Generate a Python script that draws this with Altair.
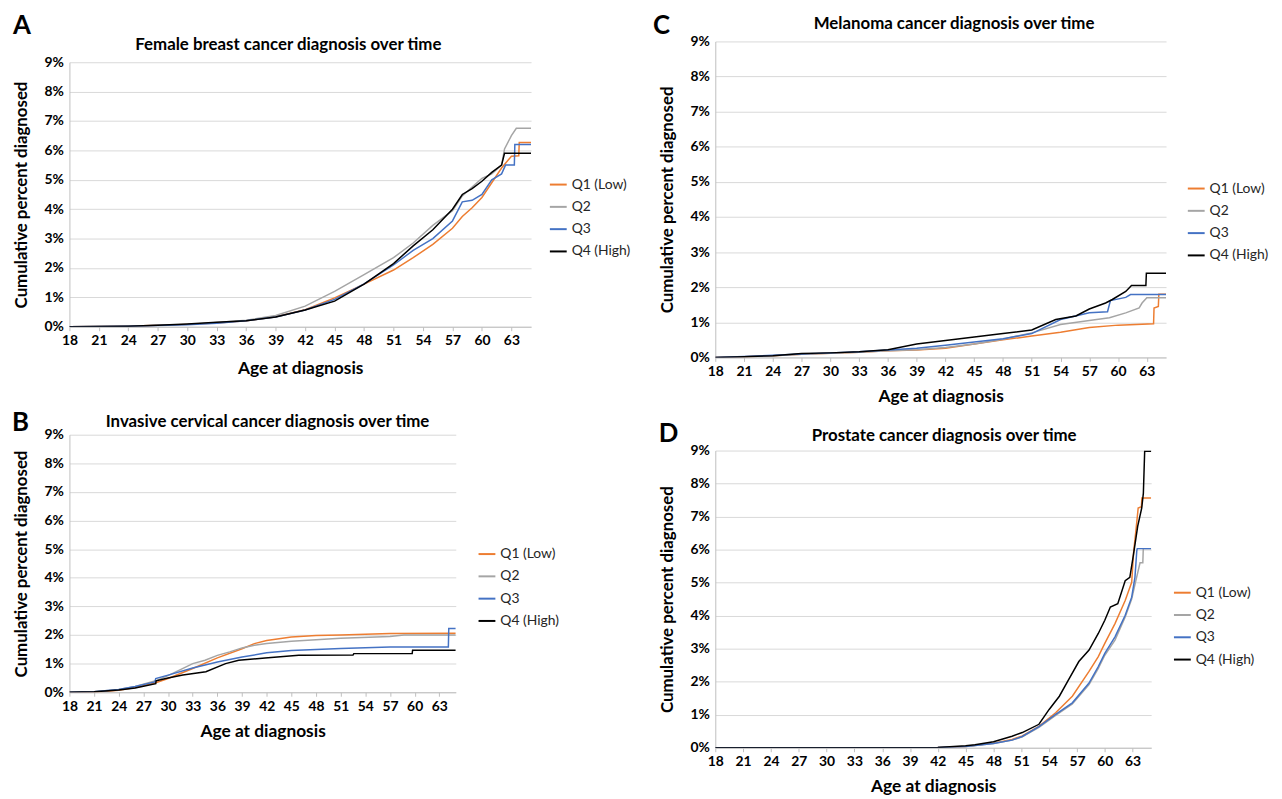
import altair as alt
import pandas as pd

GROUPS = ["Q1 (Low)", "Q2", "Q3", "Q4 (High)"]
COLORS = ["#ed7d31", "#a5a5a5", "#4472c4", "#000000"]
X_TICKS = [18, 21, 24, 27, 30, 33, 36, 39, 42, 45, 48, 51, 54, 57, 60, 63]
Y_TICKS = [0, 1, 2, 3, 4, 5, 6, 7, 8, 9]

# ---------------- Panel A: Female breast cancer ----------------
A_Q1_AGE = [18, 21, 24, 27, 30, 33, 36, 39, 42, 45, 48, 51, 53, 55, 57, 58, 59, 60, 61, 62, 63, 63.75, 63.8, 65]
A_Q1_PCT = [0, 0.01, 0.02, 0.05, 0.08, 0.13, 0.2, 0.34, 0.58, 0.98, 1.45, 1.93, 2.35, 2.8, 3.35, 3.75, 4.05, 4.4, 4.9, 5.4, 5.8, 5.82, 6.27, 6.27]
A_Q2_AGE = [18, 21, 24, 27, 30, 33, 36, 39, 42, 45, 48, 51, 53, 55, 57, 58, 59, 60, 61, 62, 62.3, 63, 63.5, 65]
A_Q2_PCT = [0, 0.01, 0.02, 0.05, 0.08, 0.14, 0.22, 0.38, 0.7, 1.2, 1.77, 2.35, 2.85, 3.45, 3.95, 4.45, 4.75, 5.05, 5.2, 5.5, 6.05, 6.5, 6.75, 6.75]
A_Q3_AGE = [18, 21, 24, 27, 30, 33, 36, 39, 42, 45, 48, 51, 53, 55, 57, 58, 59, 60, 61, 62, 62.4, 63.3, 63.35, 65]
A_Q3_PCT = [0, 0.01, 0.02, 0.04, 0.07, 0.12, 0.2, 0.33, 0.57, 0.93, 1.46, 2.1, 2.6, 3.0, 3.6, 4.25, 4.3, 4.5, 5.0, 5.2, 5.5, 5.5, 6.2, 6.2]
A_Q4_AGE = [18, 21, 24, 27, 30, 33, 36, 39, 42, 45, 48, 51, 53, 55, 57, 58, 59, 60, 61, 62, 62.3, 65]
A_Q4_PCT = [0, 0.01, 0.02, 0.05, 0.09, 0.15, 0.2, 0.33, 0.57, 0.87, 1.45, 2.15, 2.75, 3.3, 4.0, 4.5, 4.7, 4.95, 5.25, 5.5, 5.9, 5.9]

# ---------------- Panel B: Invasive cervical cancer ----------------
B_Q1_AGE = [18, 21, 24, 26, 28.5, 30, 33, 36, 39, 40.5, 42, 45, 48, 51, 57, 65]
B_Q1_PCT = [0, 0.0, 0.07, 0.17, 0.33, 0.48, 0.83, 1.2, 1.52, 1.7, 1.81, 1.93, 1.98, 2.0, 2.05, 2.06]
B_Q2_AGE = [18, 21, 24, 26, 28.5, 30, 33, 34.5, 36, 37.5, 39, 40.5, 42, 45, 51, 57, 58.7, 65]
B_Q2_PCT = [0, 0.02, 0.1, 0.2, 0.4, 0.58, 1.0, 1.12, 1.29, 1.41, 1.55, 1.64, 1.7, 1.78, 1.89, 1.95, 2.0, 2.0]
B_Q3_AGE = [18, 21, 24, 26, 28.4, 28.5, 30, 33, 36, 39, 42, 45, 51, 57, 64.1, 64.15, 65]
B_Q3_PCT = [0, 0.02, 0.1, 0.2, 0.36, 0.48, 0.6, 0.85, 1.06, 1.23, 1.38, 1.46, 1.53, 1.58, 1.58, 2.23, 2.23]
B_Q4_AGE = [18, 21, 24, 26, 28.5, 28.55, 30, 31.8, 34.6, 37, 38.6, 41.8, 45.9, 52.5, 52.6, 59.7, 59.75, 65]
B_Q4_PCT = [0, 0.02, 0.08, 0.15, 0.3, 0.4, 0.5, 0.6, 0.72, 1.0, 1.12, 1.2, 1.29, 1.3, 1.35, 1.35, 1.47, 1.47]

# ---------------- Panel C: Melanoma ----------------
C_Q1_AGE = [18, 21, 24, 27, 30, 33, 36, 39, 42, 45, 48, 51, 54, 57, 60, 63.7, 63.75, 64.2, 64.25, 65]
C_Q1_PCT = [0, 0.02, 0.05, 0.09, 0.12, 0.15, 0.19, 0.21, 0.26, 0.38, 0.5, 0.61, 0.72, 0.85, 0.92, 0.96, 1.41, 1.45, 1.8, 1.8]
C_Q2_AGE = [18, 21, 24, 27, 30, 33, 36, 39, 42, 45, 48, 51, 54, 57, 59.1, 60.8, 62.2, 62.5, 63, 65]
C_Q2_PCT = [0, 0.02, 0.05, 0.09, 0.12, 0.15, 0.19, 0.22, 0.28, 0.38, 0.52, 0.7, 0.94, 1.05, 1.13, 1.27, 1.41, 1.55, 1.7, 1.7]
C_Q3_AGE = [18, 21, 24, 27, 30, 33, 36, 39, 42, 45, 48, 51, 54, 57, 58.9, 59.2, 60.8, 61.3, 65]
C_Q3_PCT = [0, 0.03, 0.06, 0.1, 0.13, 0.16, 0.21, 0.26, 0.35, 0.44, 0.53, 0.68, 1.08, 1.27, 1.3, 1.62, 1.71, 1.79, 1.79]
C_Q4_AGE = [18, 21, 24, 27, 30, 33, 36, 39, 42, 45, 48, 51, 53.5, 55.6, 57, 58.7, 59.4, 60.8, 61.4, 62.9, 62.95, 65]
C_Q4_PCT = [0, 0.02, 0.05, 0.11, 0.13, 0.16, 0.22, 0.38, 0.48, 0.58, 0.68, 0.78, 1.08, 1.18, 1.38, 1.55, 1.65, 1.88, 2.05, 2.05, 2.4, 2.4]

# ---------------- Panel D: Prostate ----------------
D_Q1_AGE = [18, 42, 45, 48, 50, 51.1, 52.9, 54.7, 56.5, 58.3, 59.3, 60, 61.1, 62.2, 62.9, 63.1, 63.4, 63.6, 63.95, 64.0, 65]
D_Q1_PCT = [0, 0.01, 0.04, 0.14, 0.25, 0.36, 0.65, 1.06, 1.56, 2.31, 2.76, 3.16, 3.76, 4.46, 5.01, 5.9, 6.7, 7.26, 7.3, 7.56, 7.56]
D_Q2_AGE = [18, 42, 45, 48, 50, 51.1, 52.9, 54.7, 56.5, 58.3, 59.3, 60, 61.1, 62.2, 62.9, 63.3, 63.8, 64.1, 64.15, 65]
D_Q2_PCT = [0, 0.01, 0.04, 0.13, 0.23, 0.33, 0.62, 0.98, 1.33, 1.91, 2.4, 2.8, 3.26, 3.96, 4.5, 5.0, 5.6, 5.6, 6.03, 6.03]
D_Q3_AGE = [18, 42, 45, 48, 50, 51.1, 52.9, 54.7, 56.5, 58.3, 59.3, 60, 61.1, 62.2, 62.9, 63.25, 63.45, 63.5, 65]
D_Q3_PCT = [0, 0.01, 0.04, 0.13, 0.23, 0.34, 0.64, 1.01, 1.36, 1.96, 2.46, 2.86, 3.36, 4.01, 4.56, 5.16, 5.96, 6.03, 6.03]
D_Q4_AGE = [18, 42, 45, 46, 48, 50, 51.1, 52.9, 54, 55.1, 56.1, 57.2, 58.3, 59.3, 60, 60.6, 61.4, 62.2, 62.7, 63.1, 63.55, 63.98, 64.16, 64.3, 65]
D_Q4_PCT = [0, 0.01, 0.06, 0.09, 0.18, 0.35, 0.46, 0.71, 1.16, 1.56, 2.06, 2.61, 2.96, 3.46, 3.86, 4.26, 4.36, 5.06, 5.16, 5.86, 6.71, 7.26, 7.71, 8.98, 8.98]

SERIES = {
    "A": [(A_Q1_AGE, A_Q1_PCT), (A_Q2_AGE, A_Q2_PCT), (A_Q3_AGE, A_Q3_PCT), (A_Q4_AGE, A_Q4_PCT)],
    "B": [(B_Q1_AGE, B_Q1_PCT), (B_Q2_AGE, B_Q2_PCT), (B_Q3_AGE, B_Q3_PCT), (B_Q4_AGE, B_Q4_PCT)],
    "C": [(C_Q1_AGE, C_Q1_PCT), (C_Q2_AGE, C_Q2_PCT), (C_Q3_AGE, C_Q3_PCT), (C_Q4_AGE, C_Q4_PCT)],
    "D": [(D_Q1_AGE, D_Q1_PCT), (D_Q2_AGE, D_Q2_PCT), (D_Q3_AGE, D_Q3_PCT), (D_Q4_AGE, D_Q4_PCT)],
}

rows = []
for panel, series in SERIES.items():
    for g, (ages, pcts) in zip(GROUPS, series):
        for i, (a, p) in enumerate(zip(ages, pcts)):
            rows.append({"panel": panel, "group": g, "age": a, "pct": p, "idx": i})
df = pd.DataFrame(rows)

FONT = "Lato"


def make_panel(key, title, w, h, title_xy, letter_xy, legend_xy, xtitle_pad):
    xaxis = alt.Axis(
        values=X_TICKS, title="Age at diagnosis", grid=False,
        labelFont=FONT, labelFontSize=14, labelFontWeight="bold", labelColor="#000000",
        titleFont=FONT, titleFontSize=17.5, titleFontWeight="bold", titleColor="#000000",
        domainColor="#bfbfbf", tickColor="#bfbfbf", tickSize=4, labelPadding=3,
        titlePadding=xtitle_pad, labelFlush=False, labelOverlap=False,
    )
    yaxis = alt.Axis(
        values=Y_TICKS, title="Cumulative percent diagnosed", grid=True, gridColor="#d9d9d9",
        labelExpr="datum.value + '%'", ticks=False,
        labelFont=FONT, labelFontSize=14, labelFontWeight="bold", labelColor="#000000",
        titleFont=FONT, titleFontSize=17, titleFontWeight="bold", titleColor="#000000",
        domainColor="#bfbfbf", labelPadding=6, titlePadding=14,
    )
    lines = alt.Chart(df[df.panel == key]).mark_line(strokeWidth=1.5, clip=True).encode(
        x=alt.X("age:Q", scale=alt.Scale(domain=[18, 65], nice=False, zero=False), axis=xaxis),
        y=alt.Y("pct:Q", scale=alt.Scale(domain=[0, 9], nice=False), axis=yaxis),
        color=alt.Color(
            "group:N",
            scale=alt.Scale(domain=GROUPS, range=COLORS),
            legend=alt.Legend(
                title=None, orient="none", legendX=legend_xy[0], legendY=legend_xy[1],
                symbolType="stroke", symbolStrokeWidth=2, symbolSize=289,
                labelFont=FONT, labelFontSize=14, labelColor="#262626", rowPadding=5.5,
            ),
        ),
        order=alt.Order("idx:Q"),
    )
    txt = pd.DataFrame({"t": [key], "title": [title]})
    letter = alt.Chart(txt).mark_text(
        font=FONT, fontSize=26, fontWeight="bold", align="left", baseline="alphabetic", color="#000000"
    ).encode(x=alt.value(letter_xy[0]), y=alt.value(letter_xy[1]), text="t:N")
    ttl = alt.Chart(txt).mark_text(
        font=FONT, fontSize=17, fontWeight="bold", align="center", baseline="alphabetic", color="#000000"
    ).encode(x=alt.value(title_xy[0]), y=alt.value(title_xy[1]), text="title:N")
    return alt.layer(lines, letter, ttl).properties(width=w, height=h)


pA = make_panel("A", "Female breast cancer diagnosis over time", 466, 267, (221, -12), (-57, -29), (484, 114), 12)
pB = make_panel("B", "Invasive cervical cancer diagnosis over time", 390, 260, (200, -8), (-58, -4), (412, 111), 10)
pC = make_panel("C", "Melanoma cancer diagnosis over time", 455, 319, (241, -13), (-63, -8), (476, 139), 9)
pD = make_panel("D", "Prostate cancer diagnosis over time", 440, 300, (231, -10), (-57, -9), (462, 134), 9)

spacer = alt.Chart(pd.DataFrame({"v": [0]})).mark_point(opacity=0).encode(
    x=alt.value(0), y=alt.value(0)
).properties(width=10, height=1)

left = alt.vconcat(
    spacer,
    alt.vconcat(pA, pB, spacing=109, bounds="flush").resolve_scale(color="independent"),
    spacing=20, bounds="flush",
).resolve_scale(color="independent")
right = alt.vconcat(pC, pD, spacing=94, bounds="flush").resolve_scale(color="independent")

chart = alt.hconcat(left, right, spacing=22).resolve_scale(
    color="independent"
).properties(
    padding={"left": 4, "top": 1, "right": 5, "bottom": 0},
    background="#ffffff",
).configure_view(stroke=None)

chart.save("out.html", embed_options={"renderer": "svg", "actions": False})
